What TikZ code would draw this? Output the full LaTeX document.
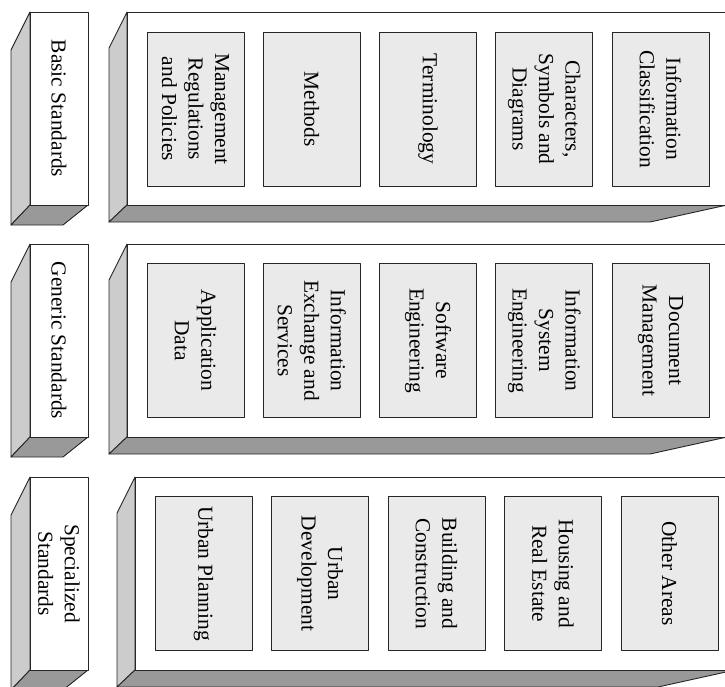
\documentclass[tikz,border=0pt]{standalone}
\usepackage{fontspec}
\setmainfont{Liberation Serif}
\usepackage{xcolor}
\usepackage{tikz}
\usetikzlibrary{positioning}

\definecolor{sidegray}{HTML}{CCCCCC}
\definecolor{floorgray}{HTML}{999999}
\definecolor{cellgray}{HTML}{EAEAEA}

\tikzset{
	edge/.style={draw=black!85, line width=0.9pt, line join=round},
	cell/.style={edge, fill=cellgray, rotate=-90, align=center,
		minimum width=154pt, minimum height=97pt, inner sep=0pt,
		font=\fontsize{21.4}{26.5}\selectfont},
	tag/.style={rotate=-90, align=center, inner sep=0pt,
		font=\fontsize{21.4}{26.5}\selectfont}
}

\begin{document}
\begin{tikzpicture}[x=1pt, y=-1pt]
		\useasboundingbox (0,0) rectangle (725,686);
		
		% 三层立体板（左侧小块 + 右侧大块）
		\foreach \dy/\dx in {0/0, 232/0, 465/8} {
			\begin{scope}[shift={(0,\dy)}]
				\draw[edge, fill=sidegray] (30,12) -- (11,50) -- (11,225) -- (30,205) -- cycle;
				\draw[edge, fill=floorgray] (30,205) -- (88,205) -- (63,225) -- (11,225) -- cycle;
				\draw[edge, fill=white] (30,12) rectangle (88,205);
				\begin{scope}[shift={(\dx,0)}]
					\draw[edge, fill=sidegray] (127,12) -- (109,48) -- (109,222) -- (127,205) -- cycle;
					\draw[edge, fill=floorgray] (127,205) -- (727,205) -- (650,222) -- (109,222) -- cycle;
					\draw[edge, fill=white] (127,12) rectangle (727,205);
				\end{scope}
			\end{scope}
		}
		
		% 层名称
		\node[tag] (basic)   at (59,108.5) {Basic Standards};
		\node[tag] (generic) at (59,340.5) {Generic Standards};
		\node[tag] (special) at (59,573.5) {Specialized\\Standards};
		
		% 第一层
		\node[cell] (mgmt)  at (195.5,109) {Management\\Regulations\\and Policies};
		\node[cell] (meth)  at (311.75,109) {Methods};
		\node[cell] (term)  at (428,109) {Terminology};
		\node[cell] (chars) at (544.25,109) {Characters,\\Symbols and\\Diagrams};
		\node[cell] (class) at (660.5,109) {Information\\Classification};
		
		% 第二层
		\node[cell] (appdata) at (195.5,340.5) {Application\\Data};
		\node[cell] (exch)    at (311.75,340.5) {Information\\Exchange and\\Services};
		\node[cell] (soft)    at (428,340.5) {Software\\Engineering};
		\node[cell] (infsys)  at (544.25,340.5) {Information\\System\\Engineering};
		\node[cell] (docmgmt) at (660.5,340.5) {Document\\Management};
		
		% 第三层
		\node[cell] (plan)    at (203.5,573.5) {Urban Planning};
		\node[cell] (dev)     at (320,573.5) {Urban\\Development};
		\node[cell] (build)   at (436.5,573.5) {Building and\\Construction};
		\node[cell] (house)   at (553,573.5) {Housing and\\Real Estate};
		\node[cell] (other)   at (669.5,573.5) {Other Areas};
	\end{tikzpicture}
\end{document}
